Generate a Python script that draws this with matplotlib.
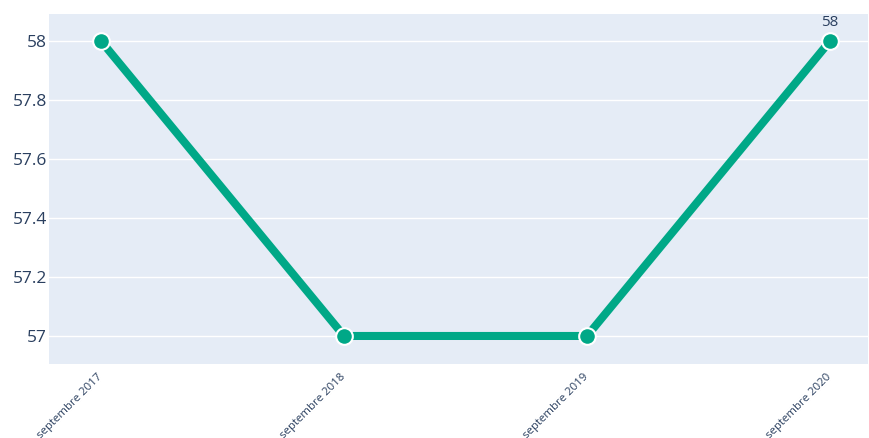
import matplotlib
matplotlib.use("Agg")
import matplotlib.pyplot as plt

categories = ["septembre 2017", "septembre 2018", "septembre 2019", "septembre 2020"]
values = [58, 57, 57, 58]
y_ticks = [57, 57.2, 57.4, 57.6, 57.8, 58]
y_tick_labels = ["57", "57.2", "57.4", "57.6", "57.8", "58"]
last_label = "58"

plt.rcParams['font.family'] = ['Open Sans', 'DejaVu Sans']

fig = plt.figure(figsize=(8.7, 4.38), dpi=100)
ax = fig.add_axes([49/870, 1 - 364/438, (868-49)/870, (364-14)/438])
ax.set_facecolor('#E5ECF6')
x = list(range(len(categories)))
ax.plot(x, values, color='#00A887', linewidth=5.8, solid_capstyle='butt', zorder=3,
        marker='o', markersize=12, markerfacecolor='#00A887', markeredgecolor='white',
        markeredgewidth=1.5)
ax.annotate(last_label, (x[-1], values[-1]), xytext=(0, 8), textcoords='offset points',
            ha='center', va='bottom', fontsize=11, color='#2a3f5f', zorder=4)
ax.set_xlim(-0.214, 3.156)
ax.set_ylim(56.905, 58.0915)
ax.set_yticks(y_ticks)
ax.set_yticklabels(y_tick_labels)
ax.set_xticks(x)
ax.set_xticklabels(categories, rotation=45, ha='right', va='center', rotation_mode='anchor',
                   fontsize=8.2, color='#2a3f5f')
ax.tick_params(axis='y', labelsize=12.5, colors='#2a3f5f', length=0, pad=1.5)
ax.tick_params(axis='x', length=0, pad=8)
ax.grid(axis='y', color='white', linewidth=1)
ax.set_axisbelow(True)
for s in ax.spines.values():
    s.set_visible(False)
fig.savefig('out.png', dpi=100)
